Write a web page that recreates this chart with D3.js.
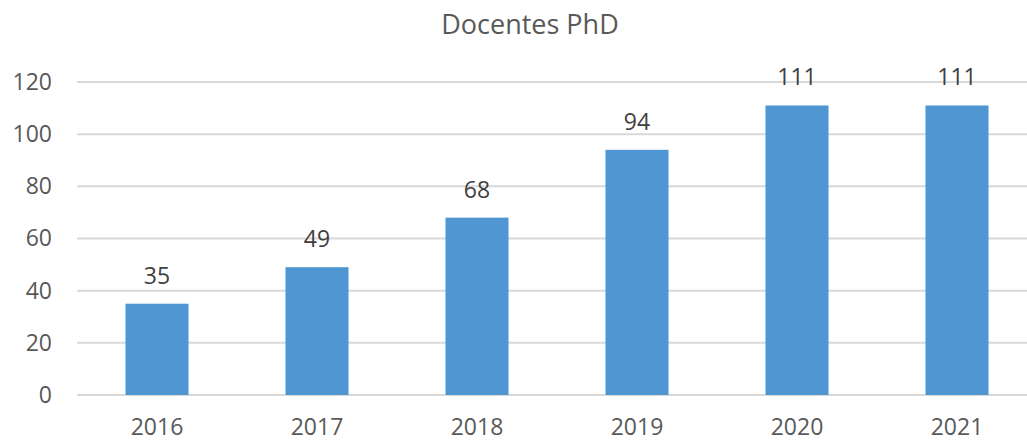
<!DOCTYPE html>
<html><head><meta charset="utf-8">
<script src="https://cdn.jsdelivr.net/npm/d3@7"></script>
<style>body{margin:0;background:#fff;overflow:hidden}svg{display:block}</style>
</head><body>
<svg id="c" width="1027" height="441"></svg>
<script>
const title = "Docentes PhD";
const years = ["2016","2017","2018","2019","2020","2021"];
const values = [35, 49, 68, 94, 111, 111];
const yTicks = [0, 20, 40, 60, 80, 100, 120];

const svg = d3.select("#c");
const font = "'Open Sans', sans-serif";
const x = d3.scaleBand().domain(years).range([77, 1037]).paddingInner(0.606).paddingOuter(0.303);
const y = d3.scaleLinear().domain([0, 120]).range([395, 82]);

svg.append("text").attr("x", 530).attr("y", 34).attr("text-anchor", "middle")
  .attr("font-family", font).attr("font-size", 27).attr("fill", "#595959").text(title);

const yAxis = d3.axisLeft(y).tickValues(yTicks).tickSize(0).tickPadding(25);
const gy = svg.append("g").attr("transform", "translate(77,0)").call(yAxis);
gy.select(".domain").remove();
gy.selectAll("text").attr("font-family", font).attr("font-size", 23).attr("fill", "#595959");

svg.append("g").selectAll("line").data(yTicks).join("line")
  .attr("x1", 77).attr("x2", 1027).attr("y1", d => y(d)).attr("y2", d => y(d))
  .attr("stroke", "#d9d9d9").attr("stroke-width", 2);

svg.append("g").selectAll("rect").data(values).join("rect")
  .attr("x", (d, i) => x(years[i])).attr("width", x.bandwidth())
  .attr("y", d => y(d)).attr("height", d => y(0) - y(d)).attr("fill", "#5096d3");

svg.append("g").selectAll("text").data(values).join("text")
  .attr("x", (d, i) => x(years[i]) + x.bandwidth() / 2).attr("y", d => y(d) - 20)
  .attr("text-anchor", "middle").attr("font-family", font).attr("font-size", 23)
  .attr("fill", "#404040").text(d => d);

const xAxis = d3.axisBottom(x).tickSize(0).tickPadding(24);
const gx = svg.append("g").attr("transform", "translate(0,395)").call(xAxis);
gx.select(".domain").remove();
gx.selectAll("text").attr("font-family", font).attr("font-size", 23).attr("fill", "#595959");
</script>
</body></html>
